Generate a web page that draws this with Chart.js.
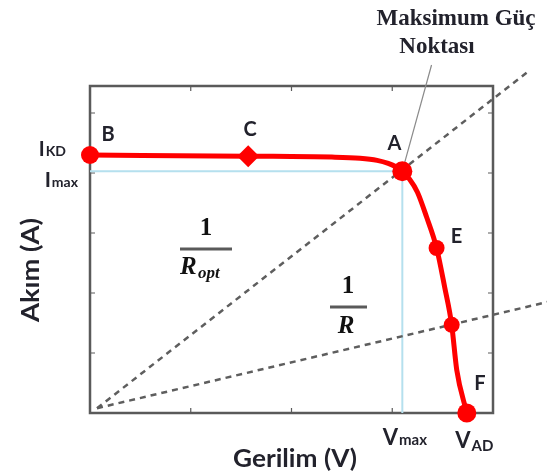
<!DOCTYPE html>
<html>
<head>
<meta charset="utf-8">
<title>Akım - Gerilim</title>
<script src="https://cdn.jsdelivr.net/npm/chart.js@4.4.0/dist/chart.umd.min.js"></script>
<style>
  html, body { margin: 0; padding: 0; background: #fff; }
  #wrap { position: relative; width: 547px; height: 476px; }
</style>
</head>
<body>
<div id="wrap"><canvas id="ivChart" width="547" height="476"></canvas></div>
<script>
// I-V curve of the panel: voltage (x) and current (y)
const curveV = [0, 1.57, 2.40, 2.68, 2.85, 2.96, 3.04, 3.10, 3.17, 3.25, 3.34, 3.44, 3.52, 3.59, 3.64, 3.74];
const curveI = [4.30, 4.28, 4.265, 4.245, 4.21, 4.16, 4.10, 4.03, 3.90, 3.68, 3.27, 2.75, 2.10, 1.47, 0.72, 0];

// marked operating points on the curve
const pointNames = ['B', 'C', 'A', 'E', '', 'F'];
const pointV = [0, 1.57, 3.10, 3.44, 3.59, 3.74];
const pointI = [4.30, 4.28, 4.03, 2.75, 1.47, 0];
const pointShape = ['circle', 'rectRot', 'circle', 'circle', 'circle', 'circle'];
const pointSize = [9, 11, 10, 8, 8, 9.5];

// load lines 1/Ropt and 1/R (start and end)
const loadOptV = [0.07, 4.34];
const loadOptI = [0.08, 5.68];
const loadV = [0.07, 4.54];
const loadI = [0.08, 1.85];

// leader line for the maximum power point note
const noteV = [3.10, 3.39];
const noteI = [4.03, 5.80];

const vMax = 3.10, iMax = 4.03, iKD = 4.30, vAD = 3.74;
const xTicks = [1, 2, 3];
const yTicks = [1, 2, 3, 4, 5];

const toXY = (xs, ys) => xs.map((x, i) => ({ x: x, y: ys[i] }));

const TEXT = '#22222c';
const SANS = 'Lato, "Open Sans", sans-serif';
const SERIF = '"Liberation Serif", "DejaVu Serif", serif';

// text with a smaller second part (subscript style)
function subText(ctx, main, sub, x, y, size, drop, align) {
  ctx.font = 'bold ' + size + 'px ' + SANS;
  const w1 = ctx.measureText(main).width;
  ctx.font = 'bold ' + Math.round(size * 0.68) + 'px ' + SANS;
  const w2 = ctx.measureText(sub).width;
  let left = x - (w1 + w2) / 2;
  if (align === 'right') left = x - w1 - w2;
  ctx.textAlign = 'left';
  ctx.textBaseline = 'alphabetic';
  ctx.font = 'bold ' + size + 'px ' + SANS;
  ctx.fillText(main, left, y);
  ctx.font = 'bold ' + Math.round(size * 0.68) + 'px ' + SANS;
  ctx.fillText(sub, left + w1 + 1, y + drop);
}

// centred text stretched to a given width
function fitText(ctx, text, x, y, width) {
  const w = ctx.measureText(text).width;
  ctx.save();
  ctx.translate(x, y);
  ctx.scale(width / w, 1);
  ctx.textAlign = 'center';
  ctx.fillText(text, 0, 0);
  ctx.restore();
}

const frame = {
  id: 'frame',
  beforeDatasetsDraw(chart) {
    const { ctx, chartArea: a, scales: { x, y } } = chart;
    ctx.save();
    ctx.strokeStyle = '#5a5a5a';
    ctx.lineWidth = 2.5;
    ctx.strokeRect(a.left, a.top, a.right - a.left, a.bottom - a.top);
    // inward tick marks on all four sides
    ctx.lineWidth = 1.2;
    ctx.beginPath();
    xTicks.forEach(v => {
      const px = x.getPixelForValue(v);
      ctx.moveTo(px, a.bottom); ctx.lineTo(px, a.bottom - 5);
      ctx.moveTo(px, a.top); ctx.lineTo(px, a.top + 5);
    });
    yTicks.forEach(v => {
      const py = y.getPixelForValue(v);
      ctx.moveTo(a.left, py); ctx.lineTo(a.left + 5, py);
      ctx.moveTo(a.right, py); ctx.lineTo(a.right - 5, py);
    });
    ctx.stroke();
    ctx.restore();
  },
  afterDatasetsDraw(chart) {
    const { ctx, scales: { x, y } } = chart;
    ctx.save();
    ctx.fillStyle = TEXT;

    // point letters
    ctx.font = 'bold 20px ' + SANS;
    ctx.textAlign = 'center';
    ctx.textBaseline = 'middle';
    const offs = [[18, -20], [2, -27], [-8, -28], [20, -11], [0, 0], [13, -29]];
    pointNames.forEach((n, i) => {
      if (!n) return;
      ctx.fillText(n, x.getPixelForValue(pointV[i]) + offs[i][0], y.getPixelForValue(pointI[i]) + offs[i][1]);
    });

    // current and voltage markers beside the axes
    const left = x.getPixelForValue(0);
    const bottom = y.getPixelForValue(0);
    subText(ctx, 'I', 'KD', left - 25, y.getPixelForValue(iKD) + 1, 20, 0, 'right');
    subText(ctx, 'I', 'max', left - 13, y.getPixelForValue(iMax) + 16, 21, 0, 'right');
    subText(ctx, 'V', 'max', x.getPixelForValue(vMax) + 2, bottom + 32, 22, 0);
    subText(ctx, 'V', 'AD', x.getPixelForValue(vAD) + 7, bottom + 35, 22, 3);

    // axis titles
    ctx.font = 'bold 24px ' + SANS;
    ctx.textBaseline = 'middle';
    fitText(ctx, 'Gerilim (V)', 295, 459, 124);
    ctx.save();
    ctx.translate(31, 270);
    ctx.rotate(-Math.PI / 2);
    fitText(ctx, 'Akım (A)', 0, 0, 104);
    ctx.restore();

    // 1/Ropt and 1/R fractions
    ctx.fillStyle = '#111';
    ctx.textAlign = 'center';
    ctx.font = 'bold 25px ' + SERIF;
    ctx.fillText('1', 206, 229);
    ctx.fillText('1', 348, 287);
    ctx.strokeStyle = '#5a5a5a';
    ctx.lineWidth = 3;
    ctx.beginPath();
    ctx.moveTo(180, 249); ctx.lineTo(232, 249);
    ctx.moveTo(330, 307); ctx.lineTo(367, 307);
    ctx.stroke();
    ctx.font = 'italic bold 25px ' + SERIF;
    ctx.textAlign = 'left';
    ctx.fillText('R', 180, 268);
    ctx.font = 'italic bold 17px ' + SERIF;
    ctx.fillText('opt', 198, 274);
    ctx.font = 'italic bold 25px ' + SERIF;
    ctx.textAlign = 'center';
    ctx.fillText('R', 346, 327);

    // maximum power point note
    ctx.fillStyle = TEXT;
    ctx.font = 'bold 23px ' + SERIF;
    ctx.fillText('Maksimum Güç', 456, 19);
    ctx.fillText('Noktası', 437, 47);
    ctx.restore();
  }
};

new Chart(document.getElementById('ivChart'), {
  type: 'scatter',
  data: {
    datasets: [
      {
        // marked points
        data: toXY(pointV, pointI),
        showLine: false,
        pointStyle: pointShape,
        pointRadius: pointSize,
        backgroundColor: '#ff0000',
        borderColor: '#ff0000',
        borderWidth: 0,
        clip: false,
        order: 0
      },
      {
        // I-V curve
        data: toXY(curveV, curveI),
        showLine: true,
        borderColor: '#ff0000',
        borderWidth: 5,
        pointRadius: 0,
        cubicInterpolationMode: 'monotone',
        clip: false,
        order: 1
      },
      {
        data: toXY(loadOptV, loadOptI),
        showLine: true,
        borderColor: '#5e5e5e',
        borderWidth: 2.5,
        borderDash: [6, 5],
        pointRadius: 0,
        clip: false,
        order: 2
      },
      {
        data: toXY(loadV, loadI),
        showLine: true,
        borderColor: '#5e5e5e',
        borderWidth: 2.5,
        borderDash: [6, 5],
        pointRadius: 0,
        clip: false,
        order: 2
      },
      {
        data: toXY(noteV, noteI),
        showLine: true,
        borderColor: '#8a8a8a',
        borderWidth: 1.2,
        pointRadius: 0,
        clip: false,
        order: 2
      },
      {
        // Imax / Vmax guide lines
        data: [{ x: 0, y: iMax }, { x: vMax, y: iMax }, { x: vMax, y: 0 }],
        showLine: true,
        borderColor: '#b5e0ee',
        borderWidth: 2,
        pointRadius: 0,
        order: 3
      }
    ]
  },
  options: {
    responsive: false,
    animation: false,
    devicePixelRatio: 1,
    layout: { padding: { left: 90, right: 54, top: 86, bottom: 63 } },
    plugins: { legend: { display: false }, tooltip: { enabled: false } },
    scales: {
      x: {
        type: 'linear', min: 0, max: 4,
        ticks: { display: false, stepSize: 1 },
        grid: { display: false, drawTicks: false, tickLength: 0 },
        border: { display: false }
      },
      y: {
        type: 'linear', min: 0, max: 5.45,
        ticks: { display: false, stepSize: 1 },
        grid: { display: false, drawTicks: false, tickLength: 0 },
        border: { display: false }
      }
    }
  },
  plugins: [frame]
});
</script>
</body>
</html>
